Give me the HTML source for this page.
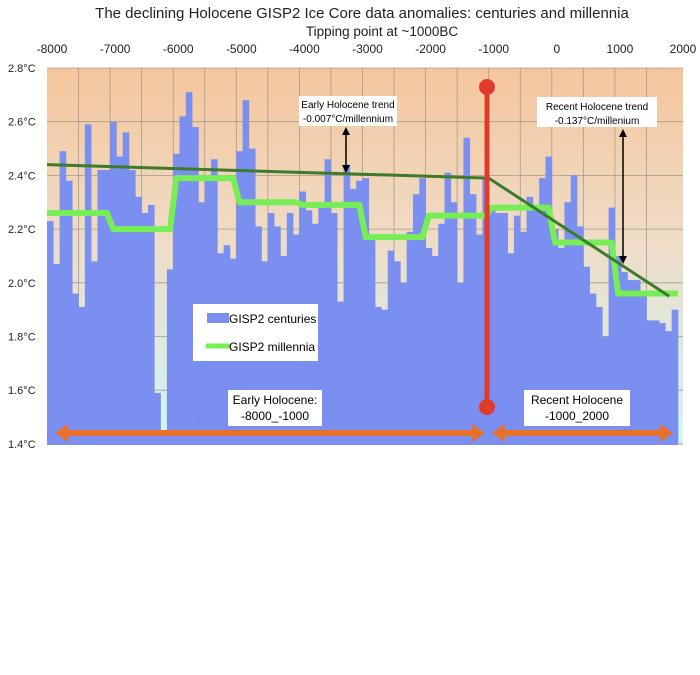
<!DOCTYPE html>
<html><head><meta charset="utf-8"><style>
html,body{margin:0;padding:0;background:#fff;width:700px;height:675px;overflow:hidden}
svg text{font-family:"Liberation Sans",sans-serif}
</style></head><body>
<svg id="chart" width="700" height="675" viewBox="0 0 700 675">
<defs>
<linearGradient id="bg" x1="0" y1="0" x2="0" y2="1">
<stop offset="0" stop-color="#f4c69c"/>
<stop offset="0.45" stop-color="#efdcc6"/>
<stop offset="1" stop-color="#cff5f8"/>
</linearGradient>
</defs>
<text x="362" y="18" text-anchor="middle" font-size="15" fill="#222">The declining Holocene GISP2 Ice Core data anomalies: centuries and millennia</text>
<text x="382" y="36" text-anchor="middle" font-size="13.5" fill="#222">Tipping point at ~1000BC</text>
<rect x="47" y="68" width="636" height="377" fill="url(#bg)"/>
<g id="grid"></g>
<g id="bars"></g>
<g id="overlay"></g>
<g id="axes"></g>
</svg>
<script>
const years = [];
for (let i = 0; i < 100; i++) years.push(-8000 + i * 100);
const centuryValues = [2.23,2.07,2.49,2.38,1.96,1.91,2.59,2.08,2.42,2.42,2.60,2.47,2.56,2.42,2.32,2.26,2.29,1.59,1.45,2.05,2.48,2.62,2.71,2.58,2.30,2.38,2.46,2.11,2.14,2.09,2.49,2.68,2.50,
2.21,2.08,2.26,2.21,2.10,2.26,2.18,2.34,2.27,2.22,2.29,2.46,2.26,1.93,2.44,2.35,2.38,2.39,2.16,1.91,1.90,2.12,2.08,2.00,2.19,2.33,2.39,2.13,2.10,2.22,2.41,2.30,2.00,2.54,
2.33,2.18,2.39,2.28,2.26,2.26,2.11,2.25,2.19,2.32,2.28,2.39,2.47,2.20,2.13,2.30,2.40,2.21,2.06,1.96,1.91,1.80,2.28,2.10,2.04,2.01,2.01,1.96,1.86,1.86,1.85,1.82,1.90];
const millStarts = [-8000,-7000,-6000,-5000,-4000,-3000,-2000,-1000,0,1000];
const millValues = [2.26,2.20,2.39,2.30,2.29,2.17,2.25,2.28,2.15,1.96];
const earlyTrendYears = [-8000,-1000];
const earlyTrendValues = [2.44,2.39];
const recentTrendYears = [-1000,1860];
const recentTrendValues = [2.39,1.95];
const yTicks = [1.4,1.6,1.8,2.0,2.2,2.4,2.6,2.8];
const yTickLabels = ["1.4°C","1.6°C","1.8°C","2.0°C","2.2°C","2.4°C","2.6°C","2.8°C"];
const xTicks = [-8000,-7000,-6000,-5000,-4000,-3000,-2000,-1000,0,1000,2000];
const xTickLabels = ["-8000","-7000","-6000","-5000","-4000","-3000","-2000","-1000","0","1000","2000"];

const X = yr => 47 + (yr + 8000) * 0.0631;
const Y = v => 68 + (2.8 - v) * 268.5;
const NS = "http://www.w3.org/2000/svg";
function mk(tag, attrs, parent){const e=document.createElementNS(NS,tag);for(const k in attrs)e.setAttribute(k,attrs[k]);parent.appendChild(e);return e;}
const grid=document.getElementById('grid'),bars=document.getElementById('bars'),ov=document.getElementById('overlay'),ax=document.getElementById('axes');

for(let yr=-7500; yr<2000; yr+=500){
  const l=mk('line',{x1:X(yr),x2:X(yr),y1:68,y2:445,stroke:'#a89a8a','stroke-width':0.8},grid);
  
  
}
yTicks.forEach((v,i)=>{
  const l=mk('line',{x1:47,x2:683,y1:Y(v),y2:Y(v),stroke:'#a89a8a','stroke-width':0.8},grid);
  
  
  const t=mk('text',{x:8,y:Y(v)+4,'font-size':11,fill:'#222'},ax);
  t.textContent=yTickLabels[i];
  
  
});
xTicks.forEach((yr,i)=>{
  const t=mk('text',{x:X(yr)+5,y:53,'font-size':12,'text-anchor':'middle',fill:'#222'},ax);
  t.textContent=xTickLabels[i];
  
  
});
centuryValues.forEach((v,i)=>{
  const x0=X(years[i]), x1=X(years[i]+100);
  const r=mk('rect',{x:x0,y:Y(v),width:x1-x0+0.3,height:445-Y(v),fill:'#7a8ff0'},bars);
  
  
});
// millennia step line
let pts=[];
millStarts.forEach((s,i)=>{
  pts.push([X(i===0?s:s+50),Y(millValues[i])]);
  pts.push([X(i===millStarts.length-1?s+1000:s+950),Y(millValues[i])]);
});
const ml=mk('polyline',{points:pts.map(p=>p.join(',')).join(' '),fill:'none',stroke:'#77ee55','stroke-width':6,'stroke-linejoin':'round'},ov);


const t1=mk('line',{x1:X(earlyTrendYears[0]),y1:Y(earlyTrendValues[0]),x2:X(earlyTrendYears[1]),y2:Y(earlyTrendValues[1]),stroke:'#3d7a2a','stroke-width':3},ov);


const t2=mk('line',{x1:X(recentTrendYears[0]),y1:Y(recentTrendValues[0]),x2:X(recentTrendYears[1]),y2:Y(recentTrendValues[1]),stroke:'#3d7a2a','stroke-width':3},ov);


</script>
<svg width="700" height="675" style="position:absolute;left:0;top:0">
<g>
<line x1="487" y1="87" x2="487" y2="407" stroke="#e03a2a" stroke-width="5"/>
<circle cx="487" cy="87" r="8" fill="#e03a2a"/>
<circle cx="487" cy="407" r="8" fill="#e03a2a"/>
</g>
<g fill="#e8702a" stroke="none">
<rect x="64" y="430" width="412" height="6"/>
<polygon points="55,433 68,424 68,442"/>
<polygon points="485,433 472,424 472,442"/>
</g>
<g fill="#e8702a">
<rect x="502" y="430" width="162" height="6"/>
<polygon points="492,433 505,424 505,442"/>
<polygon points="673,433 660,424 660,442"/>
</g>
<g font-family="Liberation Sans, sans-serif">
<rect x="299" y="96" width="98" height="30" fill="#fff"/>
<text x="348" y="108" font-size="10" text-anchor="middle">Early Holocene  trend</text>
<text x="348" y="122" font-size="10" text-anchor="middle">-0.007°C/millennium</text>
<line x1="346" y1="131" x2="346" y2="170" stroke="#000" stroke-width="1.5"/>
<polygon points="346,127 342,135 350,135"/><polygon points="346,173 342,165 350,165"/>
</g>
<g font-family="Liberation Sans, sans-serif">
<rect x="537" y="97" width="120" height="30" fill="#fff"/>
<text x="597" y="110" font-size="10" text-anchor="middle">Recent Holocene trend</text>
<text x="597" y="124" font-size="10" text-anchor="middle">-0.137°C/millenium</text>
<line x1="623" y1="133" x2="623" y2="260" stroke="#000" stroke-width="1.5"/>
<polygon points="623,129 619,137 627,137"/><polygon points="623,264 619,256 627,256"/>
</g>
<g font-family="Liberation Sans, sans-serif">
<rect x="193" y="304" width="125" height="57" fill="#fff"/>
<rect x="207" y="313" width="22" height="10" fill="#7a8ff0"/>
<text x="229" y="323" font-size="12">GISP2 centuries</text>
<line x1="206" y1="346" x2="230" y2="346" stroke="#77ee55" stroke-width="5"/>
<text x="229" y="351" font-size="12">GISP2 millennia</text>
</g>
<g font-family="Liberation Sans, sans-serif">
<rect x="228" y="390" width="94" height="36" fill="#fff"/>
<text x="275" y="404" font-size="12" text-anchor="middle">Early Holocene:</text>
<text x="275" y="420" font-size="12" text-anchor="middle">-8000_-1000</text>
</g>
<g font-family="Liberation Sans, sans-serif">
<rect x="524" y="390" width="106" height="36" fill="#fff"/>
<text x="577" y="404" font-size="12" text-anchor="middle">Recent Holocene</text>
<text x="577" y="420" font-size="12" text-anchor="middle">-1000_2000</text>
</g>
</svg>
</body></html>
